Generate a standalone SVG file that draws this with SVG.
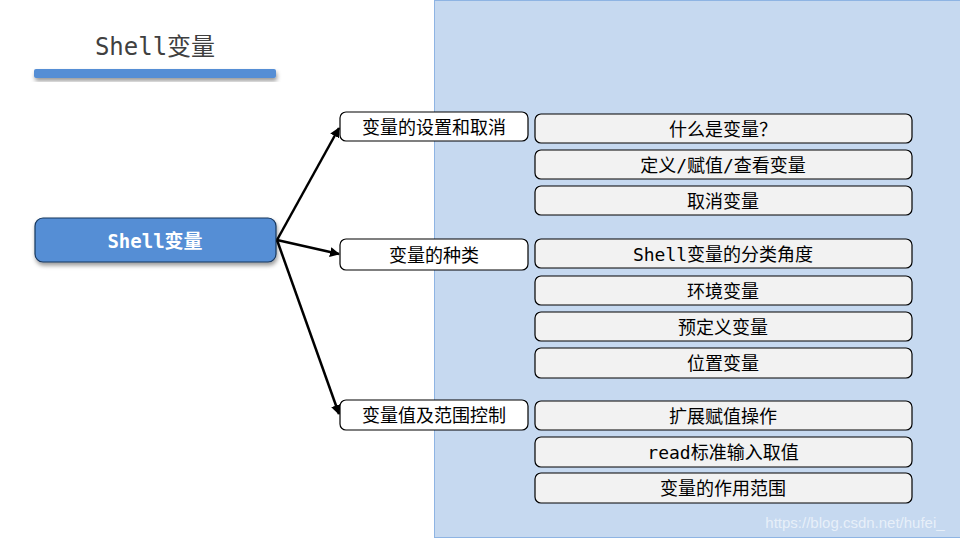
<svg xmlns="http://www.w3.org/2000/svg" width="960" height="540" viewBox="0 0 960 540">
<defs>
<style>
.cat rect{fill:#fff;stroke:#000;stroke-width:1.2}
.item rect{fill:#f2f2f2;stroke:#000;stroke-width:1.2}
.t{font-family:"DejaVu Sans Mono","Noto Sans CJK SC",monospace;font-size:18px;fill:#000;text-anchor:middle;dominant-baseline:central}
.conn line{stroke:#000;stroke-width:2.5}
</style>
<marker id="ah" viewBox="0 0 10 10" refX="9" refY="5" markerWidth="4" markerHeight="4" orient="auto" markerUnits="strokeWidth">
<path d="M0,0 L10,5 L0,10 z" fill="#000"/>
</marker>
<filter id="sh" x="-10%" y="-30%" width="120%" height="170%">
<feDropShadow dx="1" dy="3" stdDeviation="2" flood-color="#000" flood-opacity="0.4"/>
</filter>
</defs>
<rect x="0" y="0" width="960" height="540" fill="#fff"/>
<rect x="434.5" y="0.5" width="530" height="537" fill="#c6d9f0" stroke="#8eb4e3" stroke-width="1"/>
<g id="title">
<text x="155" y="47" font-family="'DejaVu Sans Mono','Noto Sans CJK SC',monospace" font-size="24" fill="#404040" text-anchor="middle" dominant-baseline="central">Shell变量</text>
<rect x="34" y="69" width="242" height="9" rx="2" fill="#558ed5" filter="url(#sh)"/>
</g>
<g id="root">
<rect x="35" y="218" width="241" height="44" rx="8" fill="#558ed5" stroke="#17375e" stroke-width="1.2" filter="url(#sh)"/>
<text x="155" y="241" font-family="'DejaVu Sans Mono','Noto Sans CJK SC',monospace" font-size="19" font-weight="bold" fill="#fff" text-anchor="middle" dominant-baseline="central">Shell变量</text>
</g>
<g id="connectors" class="conn">
<line x1="277" y1="240" x2="339" y2="128" marker-end="url(#ah)"/>
<line x1="277" y1="240" x2="339" y2="254" marker-end="url(#ah)"/>
<line x1="277" y1="240" x2="339" y2="414" marker-end="url(#ah)"/>
</g>
<g id="cat1" class="cat"><rect x="340" y="112" width="188" height="29" rx="6"/><text class="t" x="434" y="127">变量的设置和取消</text></g>
<g id="cat2" class="cat"><rect x="340" y="239" width="188" height="31" rx="6"/><text class="t" x="434" y="255">变量的种类</text></g>
<g id="cat3" class="cat"><rect x="340" y="400" width="188" height="30" rx="6"/><text class="t" x="434" y="415">变量值及范围控制</text></g>
<g id="i1" class="item"><rect x="535" y="114" width="377" height="29" rx="6"/><text class="t" x="723" y="129">什么是变量？</text></g>
<g id="i2" class="item"><rect x="535" y="150" width="377" height="29" rx="6"/><text class="t" x="723" y="165">定义/赋值/查看变量</text></g>
<g id="i3" class="item"><rect x="535" y="186" width="377" height="29" rx="6"/><text class="t" x="723" y="201">取消变量</text></g>
<g id="i4" class="item"><rect x="535" y="239" width="377" height="29" rx="6"/><text class="t" x="723" y="254">Shell变量的分类角度</text></g>
<g id="i5" class="item"><rect x="535" y="276" width="377" height="29" rx="6"/><text class="t" x="723" y="291">环境变量</text></g>
<g id="i6" class="item"><rect x="535" y="312" width="377" height="29" rx="6"/><text class="t" x="723" y="327">预定义变量</text></g>
<g id="i7" class="item"><rect x="535" y="348" width="377" height="30" rx="6"/><text class="t" x="723" y="363">位置变量</text></g>
<g id="i8" class="item"><rect x="535" y="401" width="377" height="29" rx="6"/><text class="t" x="723" y="416">扩展赋值操作</text></g>
<g id="i9" class="item"><rect x="535" y="437" width="377" height="30" rx="6"/><text class="t" x="723" y="452">read标准输入取值</text></g>
<g id="i10" class="item"><rect x="535" y="473" width="377" height="30" rx="6"/><text class="t" x="723" y="488">变量的作用范围</text></g>
<text x="855" y="522" font-family="Liberation Sans,Arial,sans-serif" font-size="15" fill="#ffffff" fill-opacity="0.6" text-anchor="middle" dominant-baseline="central">https://blog.csdn.net/hufei_</text>
</svg>
